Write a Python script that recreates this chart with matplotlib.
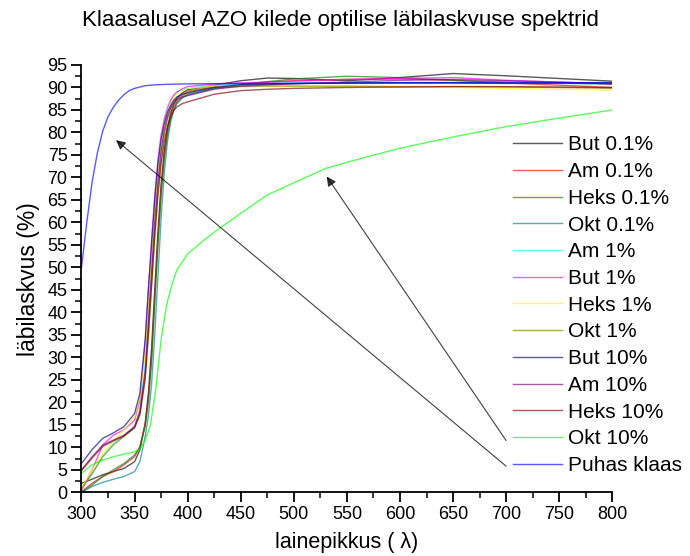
import matplotlib
matplotlib.use("Agg")
import matplotlib.pyplot as plt
from matplotlib.ticker import MultipleLocator

plt.rcParams['font.family'] = ['Liberation Sans', 'DejaVu Sans']

# Wavelength grid (nm) shared by the AZO film spectra
wl = [300, 310, 320, 330, 340, 350, 355, 360, 363, 366, 369, 372, 375, 378, 381,
      384, 387, 390, 395, 400, 425, 450, 475, 500, 550, 600, 650, 700, 750, 800]

but_01 = [2.0, 2.9, 3.9, 4.6, 5.3, 6.8, 9.4, 15.3, 22, 32, 45, 58, 68.5, 76, 81,
          84.3, 86.3, 87.6, 88.8, 89.5, 90.5, 91.5, 92.1, 92.0, 91.5, 92.2, 93.1, 92.6, 92.0, 91.4]
am_01 = [0.15, 2.0, 3.5, 4.6, 6.1, 7.9, 10.1, 15.3, 21, 30, 43, 56, 67, 75, 80.5,
         83.8, 85.8, 87.0, 88.2, 89.0, 90.2, 90.8, 91.2, 91.5, 91.8, 91.9, 91.6, 91.0, 90.5, 90.0]
heks_01 = [0.0, 1.6, 3.5, 5.0, 6.4, 8.3, 10.1, 14.6, 20, 29, 42, 55, 66, 74, 79.5,
           83, 85.2, 86.5, 87.8, 88.5, 89.8, 90.6, 91.3, 91.9, 92.5, 92.2, 91.6, 91.2, 91.0, 90.8]
okt_01 = [0.0, 1.3, 2.2, 2.9, 3.5, 4.6, 6.8, 12.4, 17, 24, 35, 48, 61, 71, 78,
          82.3, 85, 86.6, 87.7, 88.3, 89.8, 90.4, 90.7, 90.9, 91.0, 91.0, 91.0, 90.9, 90.9, 90.8]
am_1 = [1.0, 4.0, 8.0, 10.8, 12.5, 14.5, 18.0, 28, 39, 50, 61, 70, 77, 81.5, 84.5,
        86.8, 88.2, 89.0, 89.5, 89.8, 90.5, 90.8, 90.9, 91.0, 91.0, 91.0, 91.1, 91.0, 91.0, 91.0]
but_1 = [0.5, 5.0, 10.5, 12.7, 13.9, 16.0, 20.5, 33, 45, 56, 66, 74, 79.5, 83, 85.5,
         87.2, 88.3, 89.0, 89.7, 90.2, 90.8, 91.0, 91.2, 91.4, 91.8, 92.0, 92.2, 91.6, 91.2, 90.8]
heks_1 = [0.9, 5.0, 8.7, 11.3, 13.9, 16.8, 21.3, 31, 41, 52, 62, 71, 77.5, 81.5, 84.5,
          86.5, 87.8, 88.6, 89.3, 89.8, 90.3, 90.4, 90.4, 90.3, 90.2, 90.1, 90.0, 89.8, 89.6, 89.4]
okt_1 = [0.7, 4.2, 7.9, 10.5, 12.4, 14.6, 18.3, 26, 35, 46, 57, 67, 74.5, 79.5, 83,
         85.3, 86.8, 87.8, 88.7, 89.3, 90.0, 90.2, 90.3, 90.3, 90.3, 90.2, 90.2, 90.1, 90.0, 89.8]
but_10 = [6.4, 9.5, 12.0, 13.2, 14.6, 17.5, 22.0, 34, 45, 55, 65, 73, 78.5, 82, 84.5,
          86, 87.2, 87.9, 88.5, 88.8, 90.0, 90.6, 90.8, 90.9, 91.0, 91.1, 91.1, 91.0, 91.0, 91.0]
am_10 = [5.0, 7.9, 10.5, 11.6, 12.7, 14.6, 17.6, 27, 38, 49, 60, 69, 76, 80.5, 83.5,
         85.5, 86.7, 87.4, 87.9, 88.2, 89.6, 90.3, 90.6, 90.8, 91.2, 91.6, 91.8, 91.5, 91.2, 90.8]
heks_10 = [4.8, 7.6, 10.2, 11.4, 12.5, 14.3, 17.2, 25, 35, 46, 57, 66, 73, 78, 81.3,
           83.5, 84.9, 85.7, 86.4, 86.8, 88.5, 89.3, 89.6, 89.8, 90.0, 90.1, 90.2, 90.2, 90.1, 90.0]

# Okt 10% has its own, slower absorption edge
wl_okt_10 = [300, 310, 320, 330, 340, 350, 355, 360, 365, 370, 375, 380, 385, 390,
             400, 415, 430, 450, 475, 500, 530, 560, 600, 650, 700, 750, 800]
okt_10 = [4.2, 6.1, 7.2, 7.9, 8.5, 9.0, 9.6, 11.5, 15, 23, 34, 41.5, 46, 49.5,
          53, 56, 58.7, 62, 66.1, 68.8, 72, 74, 76.5, 79, 81.3, 83.2, 85]

# Bare glass substrate
wl_klaas = [300, 305, 310, 315, 320, 325, 330, 335, 340, 345, 350, 360, 370, 380,
            400, 450, 500, 600, 700, 800]
klaas = [50, 60, 69, 75.5, 80.3, 83.5, 85.6, 87.2, 88.4, 89.3, 89.8, 90.4, 90.6, 90.7,
         90.8, 90.9, 90.9, 91.0, 91.0, 91.1]

labels = ["But 0.1%", "Am 0.1%", "Heks 0.1%", "Okt 0.1%", "Am 1%", "But 1%",
          "Heks 1%", "Okt 1%", "But 10%", "Am 10%", "Heks 10%", "Okt 10%", "Puhas klaas"]
colors = ["#000000", "#ff0000", "#008000", "#008080", "#00ffff", "#ff00ff",
          "#ffff00", "#808000", "#000080", "#800080", "#800000", "#00ff00", "#0000ff"]
series = [(wl, but_01), (wl, am_01), (wl, heks_01), (wl, okt_01), (wl, am_1),
          (wl, but_1), (wl, heks_1), (wl, okt_1), (wl, but_10), (wl, am_10),
          (wl, heks_10), (wl_okt_10, okt_10), (wl_klaas, klaas)]

fig = plt.figure(figsize=(6.9, 5.56), dpi=100)
ax = fig.add_axes([0.1181, 0.1146, 0.7693, 0.7685])

for (x, y), lab, col in zip(series, labels, colors):
    ax.plot(x, y, color=col, lw=1.0, alpha=0.65, label=lab)

# arrows pointing from the lower right towards the curves
arrow_kw = dict(arrowstyle="-|>", color="black", lw=0.8, alpha=0.75,
                mutation_scale=14, shrinkA=0, shrinkB=0)
ax.annotate("", xy=(332.5, 78.3), xytext=(700, 5.8), arrowprops=arrow_kw)
ax.annotate("", xy=(531, 70.2), xytext=(700, 11.5), arrowprops=arrow_kw)

ax.set_xlim(300, 800)
ax.set_ylim(0, 95)
ax.xaxis.set_major_locator(MultipleLocator(50))
ax.xaxis.set_minor_locator(MultipleLocator(25))
ax.yaxis.set_major_locator(MultipleLocator(5))
ax.yaxis.set_minor_locator(MultipleLocator(2.5))
for s in ("top", "right"):
    ax.spines[s].set_visible(False)
for s in ("left", "bottom"):
    ax.spines[s].set_linewidth(1.3)
ax.tick_params(which="major", direction="out", length=7.5, width=1.3,
               labelsize=13, pad=2.5)
ax.tick_params(which="minor", direction="out", length=4, width=1.1)

ax.set_xlabel("lainepikkus ( λ)", fontsize=15.5, labelpad=6)
ax.set_ylabel("läbilaskvus (%)", fontsize=16.5, labelpad=5)
fig.text(0.493, 0.963, "Klaasalusel AZO kilede optilise läbilaskvuse spektrid",
         ha="center", va="center", fontsize=16)

leg = ax.legend(loc="upper left", bbox_to_anchor=(0.7435, 1 - 135.5 / 556),
                bbox_transform=fig.transFigure, frameon=False, fontsize=15,
                handlelength=2.35, handletextpad=0.3, labelspacing=0.37,
                borderpad=0, borderaxespad=0)
for h in leg.get_lines():
    h.set_alpha(0.65)

fig.savefig("out.png", dpi=100)
